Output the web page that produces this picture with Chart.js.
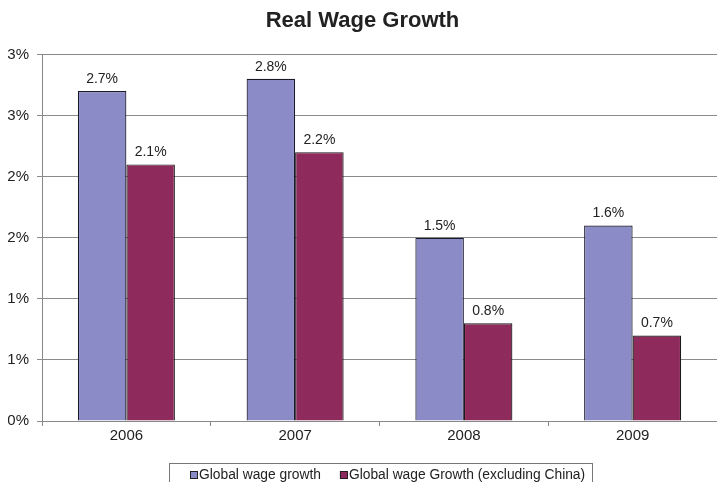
<!DOCTYPE html>
<html>
<head>
<meta charset="utf-8">
<script src="https://cdn.jsdelivr.net/npm/chart.js@4.4.1/dist/chart.umd.min.js"></script>
<style>
html,body{margin:0;padding:0;background:#fff;}
#wrap{width:717px;height:482px;position:relative;}
</style>
</head>
<body>
<div id="wrap"><canvas id="c"></canvas></div>
<script>
const categories = ["2006", "2007", "2008", "2009"];
const globalGrowth = [2.7, 2.8, 1.5, 1.6];
const growthExChina = [2.1, 2.2, 0.8, 0.7];
const seriesNames = ["Global wage growth", "Global wage Growth (excluding China)"];
const titleText = "Real Wage Growth";

const FONT = "'Liberation Sans', Arial, sans-serif";

const valueLabels = {
  id: 'valueLabels',
  afterDatasetsDraw(chart) {
    const ctx = chart.ctx;
    ctx.save();
    ctx.font = "14px " + FONT;
    ctx.fillStyle = "#222";
    ctx.textAlign = "center";
    ctx.textBaseline = "bottom";
    chart.data.datasets.forEach((ds, i) => {
      chart.getDatasetMeta(i).data.forEach((bar, j) => {
        ctx.fillText(ds.data[j].toFixed(1) + "%", bar.x, bar.y - 5);
      });
    });
    ctx.restore();
  }
};

const boxedLegend = {
  id: 'boxedLegend',
  afterDraw(chart) {
    const ctx = chart.ctx;
    ctx.save();
    ctx.font = "13.8px " + FONT;
    ctx.textBaseline = "middle";
    ctx.textAlign = "left";
    const left = 169;
    const top = 463;
    const cy = 475;
    let x = left + 21;
    chart.data.datasets.forEach((ds, i) => {
      ctx.fillStyle = ds.backgroundColor;
      ctx.fillRect(x, cy - 4, 8, 8);
      ctx.strokeStyle = "#222";
      ctx.lineWidth = 1;
      ctx.strokeRect(x + 0.5, cy - 3.5, 7, 7);
      ctx.fillStyle = "#222";
      ctx.fillText(ds.label, x + 9, cy);
      x += 9 + ctx.measureText(ds.label).width + 19;
    });
    const right = x - 19 + 7;
    ctx.strokeStyle = "#777";
    ctx.strokeRect(left + 0.5, top + 0.5, Math.round(right - left), 40);
    ctx.restore();
  }
};

new Chart(document.getElementById('c'), {
  type: 'bar',
  data: {
    labels: categories,
    datasets: [
      { label: seriesNames[0], data: globalGrowth, backgroundColor: "#8b8bc8", borderColor: "#1a1a2a", borderWidth: 1.2, borderSkipped: 'bottom' },
      { label: seriesNames[1], data: growthExChina, backgroundColor: "#8e2a5c", borderColor: "#1a1a1a", borderWidth: 1.2, borderSkipped: 'bottom' }
    ]
  },
  options: {
    responsive: true,
    maintainAspectRatio: false,
    animation: false,
    layout: { padding: { left: 8, right: 0, top: 0, bottom: 36 } },
    datasets: { bar: { categoryPercentage: 0.575, barPercentage: 1.0 } },
    plugins: {
      title: {
        display: true,
        text: titleText,
        color: "#222",
        font: { family: FONT, size: 22, weight: 'bold' },
        padding: { top: 8, bottom: 20 }
      },
      legend: { display: false },
      tooltip: { enabled: false }
    },
    scales: {
      x: {
        grid: { offset: true, drawOnChartArea: false, color: "#888", tickLength: 5 },
        border: { color: "#888", width: 1 },
        ticks: { color: "#222", font: { family: FONT, size: 15 }, padding: 1 }
      },
      y: {
        min: 0,
        max: 3,
        ticks: {
          stepSize: 0.5,
          color: "#222",
          font: { family: FONT, size: 15 },
          padding: 8,
          callback: v => Math.round(v) + "%"
        },
        grid: { color: "#8a8a8a", lineWidth: 1, tickLength: 5 },
        border: { color: "#888", width: 1 },
        afterFit: s => { s.width = 34; }
      }
    }
  },
  plugins: [valueLabels, boxedLegend]
});
</script>
</body>
</html>
